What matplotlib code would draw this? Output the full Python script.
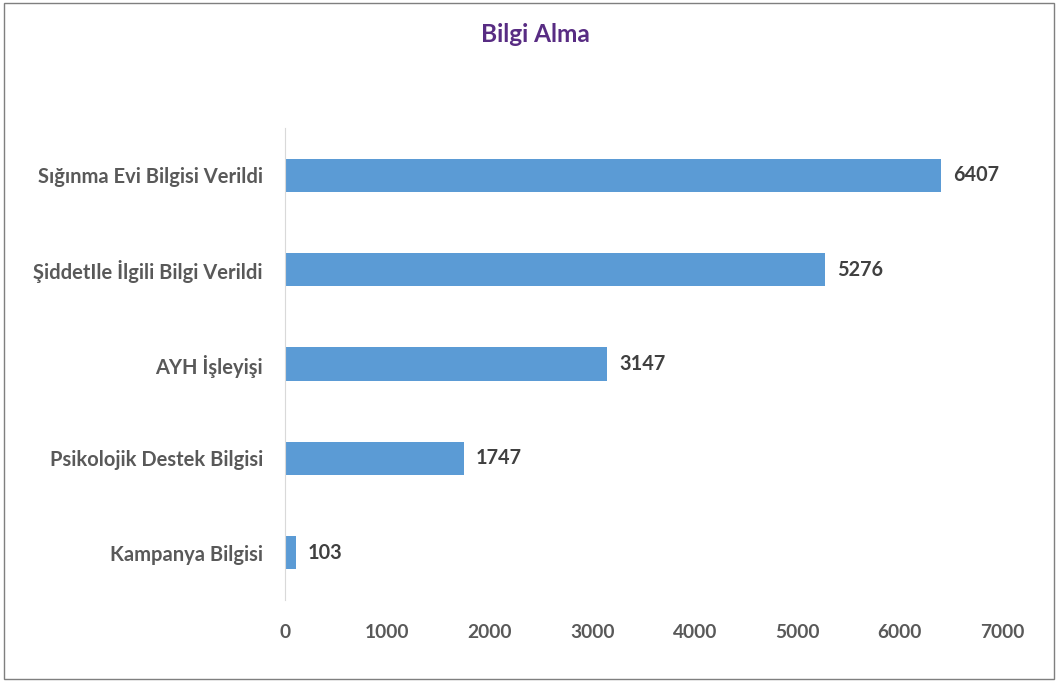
import matplotlib.pyplot as plt
from matplotlib.patches import Rectangle

categories = ['Sığınma Evi Bilgisi Verildi', 'ŞiddetIle İlgili Bilgi Verildi',
              'AYH İşleyişi', 'Psikolojik Destek Bilgisi', 'Kampanya Bilgisi']
values = [6407, 5276, 3147, 1747, 103]
xticks = [0, 1000, 2000, 3000, 4000, 5000, 6000, 7000]

plt.rcParams['font.family'] = ['Lato', 'DejaVu Sans']

fig = plt.figure(figsize=(10.58, 6.82), dpi=100)
ax = fig.add_axes([285 / 1058, 1 - 600 / 682, (1002 - 285) / 1058, (600 - 128) / 682])

pos = list(range(len(categories)))[::-1]
ax.barh(pos, values, height=0.35, color='#5B9BD5')
for p, v in zip(pos, values):
    ax.text(v + 115, p, str(v), va='center', ha='left', fontsize=14.3,
            fontweight='bold', color='#404040')

ax.set_xlim(0, 7000)
ax.set_ylim(-0.5, 4.5)
ax.set_yticks(pos)
ax.set_yticklabels(categories, fontsize=14.5, fontweight='bold', color='#595959')
ax.set_xticks(xticks)
ax.set_xticklabels([str(t) for t in xticks], fontsize=13.8, fontweight='bold', color='#595959')
ax.tick_params(axis='both', length=0)
ax.tick_params(axis='y', pad=16)
ax.tick_params(axis='x', pad=17)
for s in ['top', 'right', 'bottom']:
    ax.spines[s].set_visible(False)
ax.spines['left'].set_color('#D9D9D9')

fig.text(535 / 1058, 1 - 34 / 682, 'Bilgi Alma', ha='center', va='center',
         fontsize=17.6, fontweight='bold', color='#582C83')

fig.patches.append(Rectangle((4 / 1058, 3 / 682), 1050 / 1058, 676 / 682,
                             transform=fig.transFigure, fill=False,
                             edgecolor='#7F7F7F', linewidth=1))

fig.savefig('out.png', dpi=100)
